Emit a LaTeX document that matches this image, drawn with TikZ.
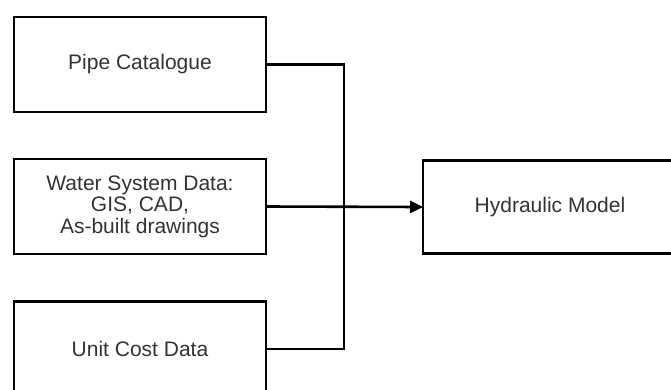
\documentclass[tikz,border=0pt]{standalone}
\usepackage{fontspec}
\setmainfont{Liberation Sans}
\usetikzlibrary{arrows.meta}
\definecolor{txt}{HTML}{333333}
\begin{document}
\begin{tikzpicture}[x=1pt,y=-1pt,
  box/.style={draw=black,line width=2.6pt,fill=white,minimum width=252pt,minimum height=95pt,inner sep=0pt,outer sep=0pt,align=center,text=txt,font=\fontsize{21}{21.5}\selectfont},
  conn/.style={draw=black,line width=2.6pt,line join=miter}]
\useasboundingbox (0,0) rectangle (671,389);
\clip (0,0) rectangle (671,389);
\node[box] (pipe) at (140,64.5) {Pipe Catalogue};
\node[box] (water) at (140,206.5) {Water System Data:\\GIS, CAD,\\As-built drawings};
\node[box] (unit) at (140,349) {Unit Cost Data};
\node[box,minimum width=254pt,minimum height=93pt] (hyd) at (550,207) {Hydraulic Model};
\coordinate (jn) at (344,207);
\draw[conn] (pipe.east) -| (jn) |- (unit.east);
\draw[conn,-{Triangle[length=13pt,width=12pt]}] (water.east) -- (hyd.west);
\end{tikzpicture}
\end{document}
